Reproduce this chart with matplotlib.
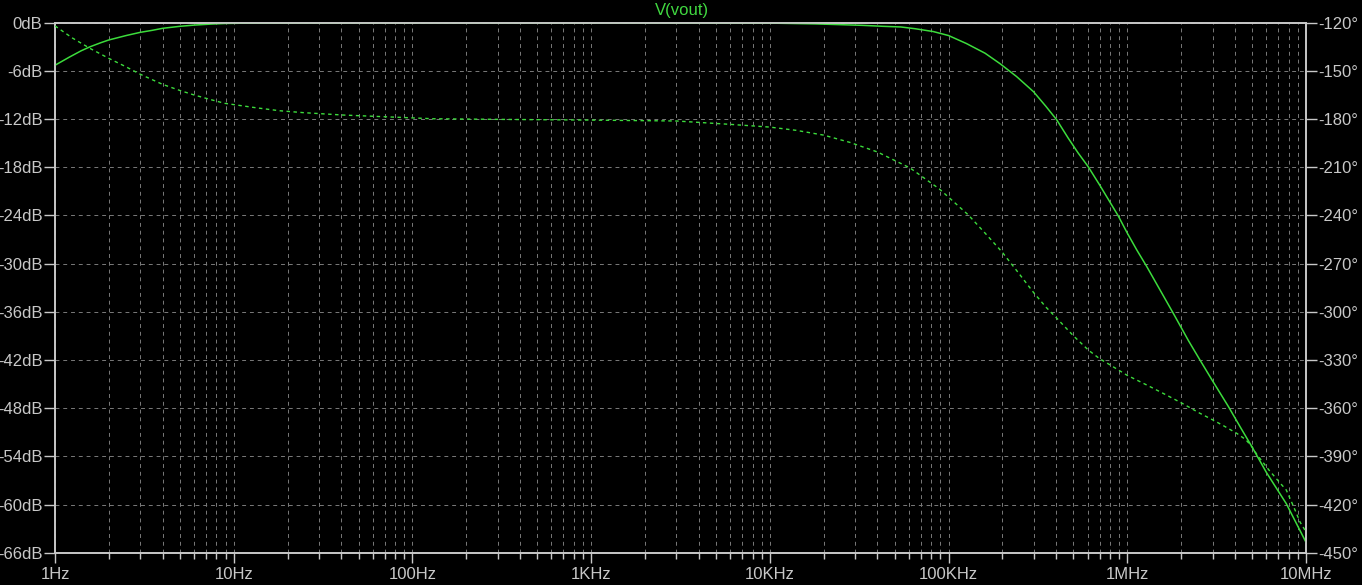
#!/usr/bin/env python3
"""
plot.py — writes out.png

Bode plot of V(vout) in LTspice style: gain in dB (solid, left axis) and
phase in degrees (dashed, right axis) against a log frequency axis, 1Hz-10MHz.
"""
import matplotlib
matplotlib.use("Agg")
import matplotlib.pyplot as plt
from matplotlib.ticker import FixedLocator, LogLocator, NullFormatter

# gain trace (solid)
gain_freq = [1, 1.2, 1.4, 1.57, 1.8, 2.0, 2.5, 3.0, 3.5, 4.0, 5.0, 6.0, 7.5,
             9.0, 12, 20, 100, 1e3, 1e4, 1.8e4, 3.3e4, 4.3e4, 5.4e4, 6.5e4,
             8.2e4, 1.0e5, 1.26e5, 1.6e5, 1.94e5, 2.4e5, 2.99e5, 3.5e5,
             4.03e5, 4.68e5, 5.3e5, 6.03e5, 7.0e5, 8.87e5, 1.0e6, 1.13e6,
             1.28e6, 1.5e6, 1.81e6, 2.2e6, 2.55e6, 3.0e6, 3.68e6, 4.3e6,
             4.98e6, 6.0e6, 7.76e6, 1e7]
gain_db = [-5.3, -4.3, -3.5, -3.0, -2.5, -2.15, -1.6, -1.2, -0.95, -0.7,
           -0.45, -0.3, -0.17, -0.1, -0.05, -0.02, 0.0, 0.0, -0.05, -0.15,
           -0.33, -0.45, -0.53, -0.75, -1.1, -1.6, -2.6, -3.8, -5.1, -6.7,
           -8.6, -10.4, -12.1, -14.4, -16.2, -17.9, -20.2, -24.0, -26.2,
           -28.3, -30.3, -33.0, -36.2, -39.6, -42.0, -44.6, -47.8, -50.4,
           -52.8, -56.0, -59.9, -64.7]

# phase trace (dashed)
phase_freq = [1, 1.25, 1.57, 2.0, 2.5, 3.0, 4.0, 5.0, 6.0, 7.5, 8.9, 13.2,
              18, 24.5, 41, 68, 130, 310, 900, 3000, 6000, 1e4, 1.4e4, 2e4,
              2.8e4, 4e4, 6.1e4, 8.9e4, 1.29e5, 1.6e5, 1.99e5, 2.45e5, 2.99e5,
              3.5e5, 4.03e5, 5e5, 6.05e5, 7e5, 8.02e5, 9.93e5, 1.34e6, 1.7e6,
              2.06e6, 2.55e6, 3.02e6, 3.5e6, 4.1e6, 4.6e6, 4.98e6, 5.32e6,
              6.2e6, 7.16e6, 7.76e6, 8.5e6, 9.27e6, 1e7]
phase_deg = [-122, -129.5, -136, -142.2, -147.5, -152.1, -158.4, -162.2, -165,
             -168, -170.2, -172.9, -174.8, -176, -177.5, -178.5, -179.8,
             -180.2, -180.6, -181.2, -183.3, -185, -187, -190, -194.5,
             -200.5, -210.5, -223.6, -239.7, -251, -262.7, -275.5, -288,
             -297, -304, -315, -323.8, -329.2, -333.1, -339.4, -346.6,
             -352.5, -357.4, -363.2, -367.4, -371.3, -375.7, -379.6, -384,
             -389, -398.5, -406.6, -411, -421, -431, -437]

freq_ticks = [1, 10, 100, 1e3, 1e4, 1e5, 1e6, 1e7]
freq_labels = ["1Hz", "10Hz", "100Hz", "1KHz", "10KHz", "100KHz", "1MHz", "10MHz"]
db_ticks = list(range(0, -67, -6))
deg_ticks = list(range(-120, -451, -30))

TRACE = "#3cdc3c"
AXIS = "#c8c8c8"
GRID = "#7a7a7a"

plt.rcParams["font.family"] = ["Liberation Sans", "DejaVu Sans"]

fig = plt.figure(figsize=(13.62, 5.85), dpi=100, facecolor="black")
ax = fig.add_axes([55 / 1362, (585 - 552.7) / 585,
                   (1306 - 55) / 1362, (552.7 - 22.7) / 585])
ax.set_facecolor("black")
ax.set_xscale("log")
ax.set_xlim(1, 1e7)
ax.set_ylim(-66, 0)

ax.xaxis.set_major_locator(FixedLocator(freq_ticks))
ax.set_xticklabels(freq_labels)
ax.xaxis.set_minor_locator(LogLocator(base=10, subs=range(2, 10), numticks=20))
ax.xaxis.set_minor_formatter(NullFormatter())
ax.set_yticks(db_ticks)
ax.set_yticklabels([f"{v}dB" for v in db_ticks])

for s in ax.spines.values():
    s.set_color(AXIS)
    s.set_linewidth(1.2)

ax.tick_params(axis="both", which="both", colors=AXIS, labelcolor=AXIS,
               labelsize=12, direction="out", width=1)
ax.tick_params(axis="x", which="major", length=7, pad=3)
ax.tick_params(axis="x", which="minor", length=4)
ax.tick_params(axis="y", which="major", length=8, pad=1)

ax.grid(True, which="both", axis="x", color=GRID, linestyle=(0, (4, 4)), linewidth=0.7)
ax.grid(True, which="major", axis="y", color=GRID, linestyle=(0, (4, 4)), linewidth=0.7)

ax.plot(gain_freq, gain_db, color=TRACE, linewidth=1.1, zorder=3)

# phase on twin axis
ax2 = ax.twinx()
ax2.set_ylim(-450, -120)
ax2.set_yticks(deg_ticks)
ax2.set_yticklabels([f"{v}\u00b0" for v in deg_ticks])
ax2.tick_params(axis="y", colors=AXIS, labelcolor=AXIS, labelsize=12,
                direction="out", length=8, width=1, pad=1)
for s in ax2.spines.values():
    s.set_color(AXIS)
    s.set_linewidth(1.2)
ax2.plot(phase_freq, phase_deg, color=TRACE, linewidth=1.0,
         linestyle=(0, (2.5, 2.5)), zorder=3)

fig.text(682 / 1362, 1 - 10 / 585, "V(vout)", color="#40d840", fontsize=12,
         ha="center", va="center")

fig.savefig("out.png", dpi=100, facecolor="black")
